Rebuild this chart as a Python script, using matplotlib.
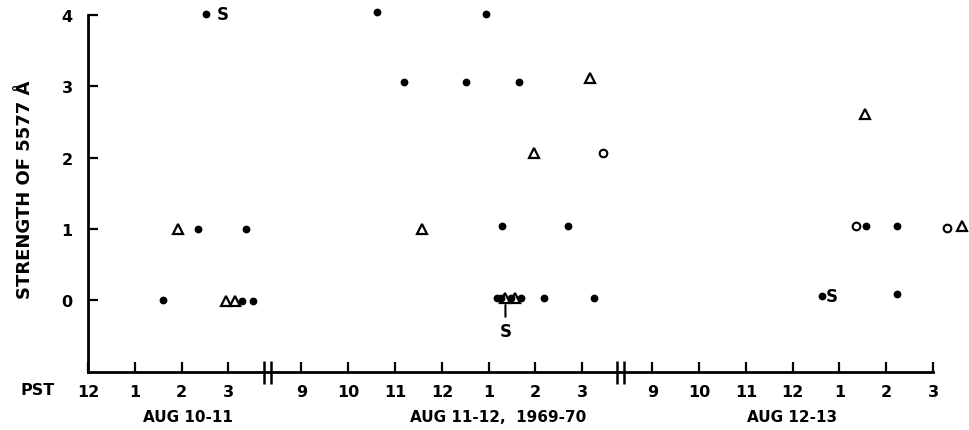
import matplotlib
matplotlib.use("Agg")
import matplotlib.pyplot as plt
import matplotlib.transforms as mtransforms

plt.rcParams['font.family'] = ['DejaVu Sans']
plt.rcParams['font.weight'] = 'bold'

# ---- data: hours relative to local midnight (negative = before midnight) ----
# Night 1: AUG 10-11
n1_dot_t = [1.61, 2.36, 2.53, 3.38, 3.29, 3.53]
n1_dot_s = [0.0, 1.0, 4.01, 1.0, -0.02, -0.01]
n1_tri_t = [1.93, 2.95, 3.15]
n1_tri_s = [1.0, -0.02, -0.02]
n1_cir_t = []
n1_cir_s = []

# Night 2: AUG 11-12
n2_dot_t = [-1.39, 0.95, -0.81, 0.51, 1.66, 1.29, 2.69, 1.17, 1.26, 1.47, 1.70, 2.18, 3.26]
n2_dot_s = [4.04, 4.02, 3.06, 3.06, 3.06, 1.04, 1.04, 0.03, 0.03, 0.03, 0.03, 0.03, 0.03]
n2_tri_t = [3.17, 1.96, -0.42, 1.36, 1.57]
n2_tri_s = [3.12, 2.07, 1.0, 0.03, 0.03]
n2_cir_t = [3.45]
n2_cir_s = [2.06]

# Night 3: AUG 12-13
n3_dot_t = [1.57, 2.22, 0.62, 2.24]
n3_dot_s = [1.04, 1.04, 0.05, 0.08]
n3_tri_t = [1.55, 3.61]
n3_tri_s = [2.61, 1.04]
n3_cir_t = [1.36, 3.30]
n3_cir_s = [1.04, 1.01]

night_labels = ["AUG 10-11", "AUG 11-12,  1969-70", "AUG 12-13"]
n1_ticks = [0, 1, 2, 3]
n1_ticklabels = ["12", "1", "2", "3"]
n23_ticks = [-3, -2, -1, 0, 1, 2, 3]
n23_ticklabels = ["9", "10", "11", "12", "1", "2", "3"]
y_ticks = [0, 1, 2, 3, 4]

# layout: offset of each night's midnight on the common axis
offsets = [0.0, 7.564, 15.064]
breaks = [3.84, 11.385]

fig = plt.figure(figsize=(9.69, 4.31), dpi=100)
ax = fig.add_axes([88/969, 58/431, 845/969, 357/431])
ax.set_xlim(0, 18.064)
ax.set_ylim(-1.01, 4.0)

nights = [
    (n1_dot_t, n1_dot_s, n1_tri_t, n1_tri_s, n1_cir_t, n1_cir_s),
    (n2_dot_t, n2_dot_s, n2_tri_t, n2_tri_s, n2_cir_t, n2_cir_s),
    (n3_dot_t, n3_dot_s, n3_tri_t, n3_tri_s, n3_cir_t, n3_cir_s),
]
for off, (dt, ds, tt, ts, ct, cs) in zip(offsets, nights):
    ax.plot([t + off for t in dt], ds, 'o', ms=4.6, mfc='black', mec='black',
            clip_on=False, zorder=4)
    ax.plot([t + off for t in tt], ts, '^', ms=7, mfc='white', mec='black',
            mew=1.6, clip_on=False, zorder=3)
    ax.plot([t + off for t in ct], cs, 'o', ms=5.5, mfc='white', mec='black',
            mew=1.5, clip_on=False, zorder=3)

# "S" annotations
ax.annotate("S", xy=(n1_dot_t[2] + offsets[0], n1_dot_s[2]), xytext=(11.5, 0),
            textcoords='offset points', ha='center', va='center',
            fontsize=12, fontweight='bold', annotation_clip=False)
ax.annotate("S", xy=(n2_tri_t[3] + offsets[1], n2_tri_s[3] - 0.1), xytext=(0, -19),
            textcoords='offset points', ha='center', va='center',
            fontsize=12, fontweight='bold', annotation_clip=False,
            arrowprops=dict(arrowstyle='-', lw=1.5, color='black',
                            shrinkA=2, shrinkB=0))
ax.annotate("S", xy=(n3_dot_t[2] + offsets[2], n3_dot_s[2]), xytext=(7.5, 0),
            textcoords='offset points', ha='center', va='center',
            fontsize=12, fontweight='bold', annotation_clip=False)

# axes styling
for side in ['top', 'right']:
    ax.spines[side].set_visible(False)
for side in ['left', 'bottom']:
    ax.spines[side].set_linewidth(2)

xt, xl = [], []
for i, off in enumerate(offsets):
    ticks = n1_ticks if i == 0 else n23_ticks
    labs = n1_ticklabels if i == 0 else n23_ticklabels
    xt += [t + off for t in ticks]
    xl += labs
ax.set_xticks(xt)
ax.set_xticklabels(xl)
ax.set_yticks(y_ticks)
ax.tick_params(axis='both', direction='in', length=7, width=1.6,
               labelsize=11.5)
ax.tick_params(axis='x', pad=9)
ax.tick_params(axis='y', pad=11)
for lab in ax.get_xticklabels() + ax.get_yticklabels():
    lab.set_fontweight('bold')

ax.set_ylabel("STRENGTH OF 5577 Å", fontsize=13, fontweight='bold')
ax.yaxis.set_label_coords(-0.064, 0.513)

# axis break marks
trans = mtransforms.blended_transform_factory(ax.transData, ax.transAxes)
for b in breaks:
    for dx in (-0.08, 0.08):
        ax.plot([b + dx, b + dx], [-0.035, 0.03], color='black', lw=1.8,
                transform=trans, clip_on=False, solid_capstyle='butt')

# PST and night labels
ax.text(-1.07, -0.048, "PST", transform=trans, ha='center', va='center',
        fontsize=11.5, fontweight='bold')
label_x = [2.14, 8.76, 15.06]
for x, lab in zip(label_x, night_labels):
    ax.text(x, -0.126, lab, transform=trans, ha='center', va='center',
            fontsize=11, fontweight='bold')

fig.savefig("out.png", dpi=100)
